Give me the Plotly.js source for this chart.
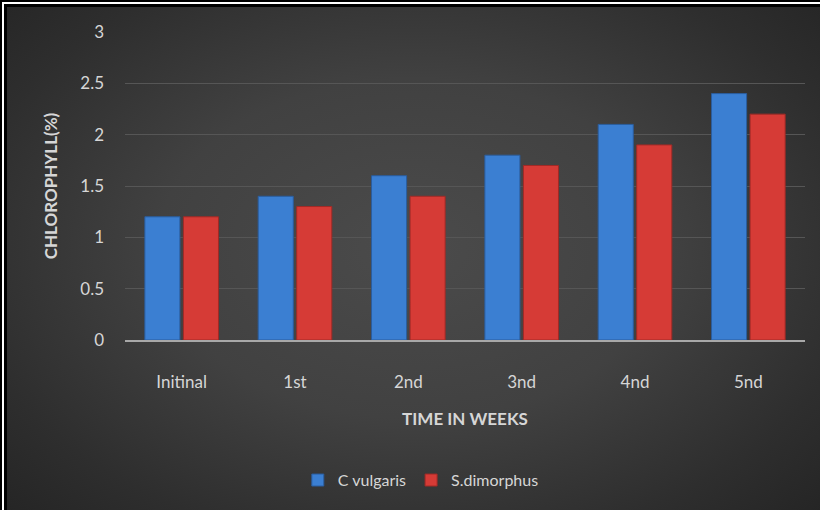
<!DOCTYPE html>
<html>
<head>
<meta charset="utf-8">
<script src="https://cdn.plot.ly/plotly-3.0.1.min.js"></script>
<style>
  html, body { margin: 0; padding: 0; background: #ffffff; }
  #frame {
    position: relative; width: 820px; height: 510px; overflow: hidden;
    background: #ffffff;
  }
  #outer {
    position: absolute; left: 0; top: 0; width: 820px; height: 510px;
    border-left: 2px solid #000; border-top: 2px solid #000; box-sizing: border-box;
  }
  #inner {
    position: absolute; left: 4px; top: 4px; right: 0; bottom: 0;
    border-left: 3px solid #000; border-top: 3px solid #000;
    background: radial-gradient(ellipse 70% 75% at 50% 48%, #4b4b4b 0%, #414141 45%, #2e2e2e 80%, #252525 100%);
  }
  #chart { position: absolute; left: 0; top: 0; width: 820px; height: 510px; }
</style>
</head>
<body>
<div id="frame">
  <div id="outer"></div>
  <div id="inner"></div>
  <div id="chart"></div>
</div>
<script>
const categories = ["Initinal", "1st", "2nd", "3nd", "4nd", "5nd"];
const cVulgaris = [1.2, 1.4, 1.6, 1.8, 2.1, 2.4];
const sDimorphus = [1.2, 1.3, 1.4, 1.7, 1.9, 2.2];
const yTicks = [0, 0.5, 1, 1.5, 2, 2.5, 3];

const fontFam = "Lato, 'Open Sans', sans-serif";
const textColor = "#d6d6d6";

const traces = [
  {
    type: "bar", name: "C vulgaris", x: categories, y: cVulgaris,
    marker: { color: "#3b7fd2", line: { color: "#2a5d9e", width: 1 } },
    hoverinfo: "x+y"
  },
  {
    type: "bar", name: "S.dimorphus", x: categories, y: sDimorphus,
    marker: { color: "#d63b36", line: { color: "#a22a26", width: 1 } },
    hoverinfo: "x+y"
  }
];

const layout = {
  width: 820, height: 510,
  paper_bgcolor: "rgba(0,0,0,0)",
  plot_bgcolor: "rgba(0,0,0,0)",
  margin: { l: 125, r: 15, t: 32, b: 170, autoexpand: false },
  barmode: "group",
  bargap: 0.32,
  bargroupgap: 0.09,
  showlegend: true,
  legend: {
    orientation: "h", x: 0.435, xanchor: "center", xref: "paper",
    y: -0.455, yanchor: "middle",
    font: { family: fontFam, size: 16, color: textColor },
    itemwidth: 30, traceorder: "normal"
  },
  xaxis: {
    type: "category",
    tickfont: { family: fontFam, size: 17, color: textColor },
    ticks: "", showgrid: false,
    showline: true, linecolor: "#a8a8a8", linewidth: 2,
    ticklabelstandoff: 26,
    title: { text: "<b>TIME IN WEEKS</b>", font: { family: fontFam, size: 17, color: textColor }, standoff: 22 }
  },
  yaxis: {
    range: [0, 3],
    tickvals: yTicks,
    ticktext: yTicks.map(v => String(v)),
    tickfont: { family: fontFam, size: 17, color: textColor },
    ticks: "", showgrid: true, gridcolor: "#565656", gridwidth: 1,
    zeroline: false, showline: false,
    ticklabelstandoff: 20,
    title: { text: "<b>CHLOROPHYLL(%)</b>", font: { family: fontFam, size: 17, color: textColor }, standoff: 18 }
  },
  font: { family: fontFam, color: textColor }
};

Plotly.newPlot("chart", traces, layout, { displayModeBar: false, staticPlot: true });
</script>
</body>
</html>
